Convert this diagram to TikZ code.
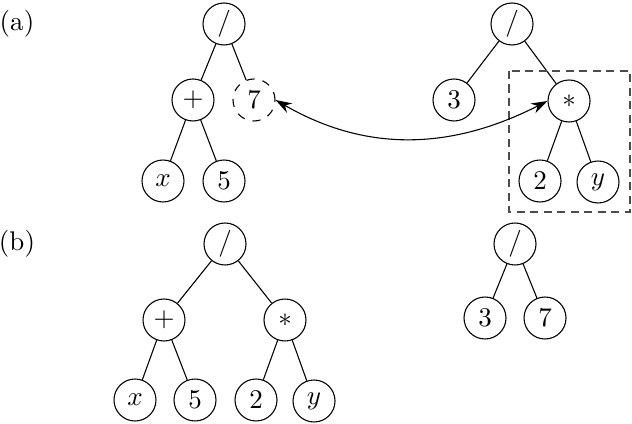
\documentclass[tikz,border=0pt]{standalone}
\usetikzlibrary{arrows.meta}
\begin{document}
\begin{tikzpicture}[x=0.01302cm,y=-0.01302cm,
  tn/.style={circle,draw,minimum size=42*0.01302cm,inner sep=0pt},
  dn/.style={tn,dashed},
  lab/.style={inner sep=0pt}]
\useasboundingbox (0,0) rectangle (632,424);
% labels
\node[lab] (la) at (17,24) {(a)};
\node[lab] (lb) at (17,244) {(b)};
% (a) left tree
\node[tn] (a1) at (224,24) {$/$};
\node[tn] (a2) at (193,100) {$+$};
\node[dn] (a3) at (254,100) {$7$};
\node[tn] (a4) at (163,181) {$x$};
\node[tn] (a5) at (224,181) {$5$};
\draw (a1) -- (a2);
\draw (a1) -- (a3);
\draw (a2) -- (a4);
\draw (a2) -- (a5);
% (a) right tree
\node[tn] (r1) at (512,24) {$/$};
\node[tn] (r2) at (454,100) {$3$};
\node[tn] (r3) at (569,101) {$\ast$};
\node[tn] (r4) at (540,181) {$2$};
\node[tn] (r5) at (598,182) {$y$};
\draw (r1) -- (r2);
\draw (r1) -- (r3);
\draw (r3) -- (r4);
\draw (r3) -- (r5);
\coordinate (bx1) at (509,71);
\coordinate (bx2) at (630,212);
\draw[black!70,dash pattern=on 3pt off 2pt] (bx1) rectangle (bx2);
\draw[{Stealth[length=6pt,width=4pt]}-{Stealth[length=6pt,width=4pt]}] (a3.east) to[out=-30,in=207] (r3.west);
% (b) left tree
\node[tn] (b1) at (225,244) {$/$};
\node[tn] (b2) at (164,320) {$+$};
\node[tn] (b3) at (285,320) {$\ast$};
\node[tn] (b4) at (135,400) {$x$};
\node[tn] (b5) at (195,400) {$5$};
\node[tn] (b6) at (256,400) {$2$};
\node[tn] (b7) at (314,401) {$y$};
\draw (b1) -- (b2);
\draw (b1) -- (b3);
\draw (b2) -- (b4);
\draw (b2) -- (b5);
\draw (b3) -- (b6);
\draw (b3) -- (b7);
% (b) right tree
\node[tn] (c1) at (515,244) {$/$};
\node[tn] (c2) at (485,318) {$3$};
\node[tn] (c3) at (545,318) {$7$};
\draw (c1) -- (c2);
\draw (c1) -- (c3);
\end{tikzpicture}
\end{document}
